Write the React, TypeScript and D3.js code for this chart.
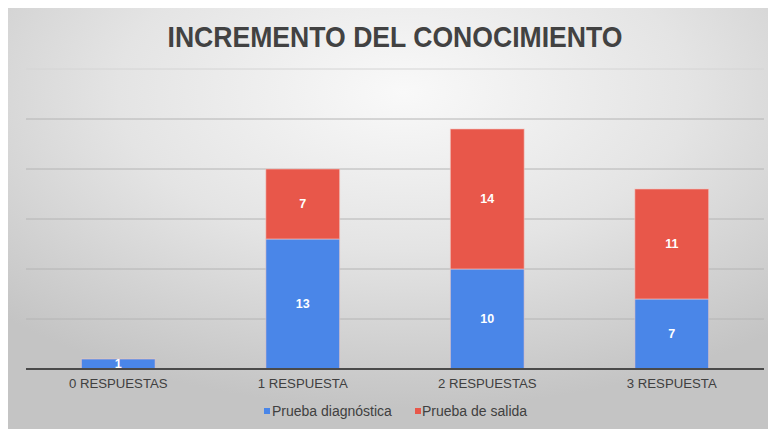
import React from "react";
import * as d3 from "d3";

const categories = ["0 RESPUESTAS", "1 RESPUESTA", "2 RESPUESTAS", "3 RESPUESTA"];
const diagnostica = [1, 13, 10, 7];
const salida = [0, 7, 14, 11];
const seriesNames = ["Prueba diagnóstica", "Prueba de salida"];
const seriesColors = ["#4a86e8", "#e8574a"];
const yTicks = [0, 5, 10, 15, 20, 25, 30];

export default function App() {
  const W = 768, H = 429;
  const left = 26, right = 764, top = 69, bottom = 369;
  const x = d3.scaleBand<string>().domain(categories).range([left, right]).paddingInner(0.6).paddingOuter(0.3);
  const y = d3.scaleLinear().domain([0, 30]).range([bottom, top]);
  const rows = categories.map((c, i) => ({ cat: c, d: diagnostica[i], s: salida[i] }));
  const stack = d3.stack<any>().keys(["d", "s"])(rows);

  return (
    <svg width={W} height={H} style={{ position: "absolute", left: 0, top: 0 }} fontFamily="'Liberation Sans', Arial, sans-serif">
      <defs>
        <radialGradient id="bg" cx="0.52" cy="0.2" r="0.75">
          <stop offset="0" stopColor="#f9f9f9" />
          <stop offset="0.5" stopColor="#e4e4e4" />
          <stop offset="1" stopColor="#c4c4c4" />
        </radialGradient>
      </defs>
      <rect x={0} y={0} width={W} height={H} fill="#ffffff" />
      <rect x={8} y={8} width={W - 8} height={H - 8} fill="url(#bg)" />
      <text x={395} y={47} textAnchor="middle" fontSize={30} fontWeight="bold" fill="#424242" textLength={455} lengthAdjust="spacingAndGlyphs">INCREMENTO DEL CONOCIMIENTO</text>
      {yTicks.filter(t => t > 0).map(t => (
        <line key={t} x1={left} x2={right} y1={y(t)} y2={y(t)} stroke={t === 30 ? "#d4d4d4" : "#b4b4b4"} strokeWidth={1} />
      ))}
      {stack.map((ser, si) => (
        <g key={si}>
          {ser.map((p, i) => {
            const v = p[1] - p[0];
            if (v <= 0) return null;
            const bx = x(categories[i])!;
            const y0 = y(p[0]), y1 = y(p[1]);
            return (
              <g key={i}>
                <rect x={bx} y={y1} width={x.bandwidth()} height={y0 - y1} fill={seriesColors[si]} stroke="#f2c9c4" strokeOpacity={0.6} strokeWidth={1} />
                <text x={bx + x.bandwidth() / 2} y={(y0 + y1) / 2 + 4} textAnchor="middle" fontSize={12.5} fontWeight="bold" fill="#ffffff">{v}</text>
              </g>
            );
          })}
        </g>
      ))}
      <line x1={left} x2={right} y1={bottom} y2={bottom} stroke="#4a4a4a" strokeWidth={2} />
      {categories.map(c => (
        <text key={c} x={x(c)! + x.bandwidth() / 2} y={388} textAnchor="middle" fontSize={13.2} fill="#404040">{c}</text>
      ))}
      <rect x={264} y={408} width={6} height={6} fill={seriesColors[0]} />
      <text x={272} y={415.5} fontSize={14} fill="#404040">{seriesNames[0]}</text>
      <rect x={415} y={408} width={6} height={6} fill={seriesColors[1]} />
      <text x={422} y={415.5} fontSize={14} fill="#404040">{seriesNames[1]}</text>
    </svg>
  );
}
